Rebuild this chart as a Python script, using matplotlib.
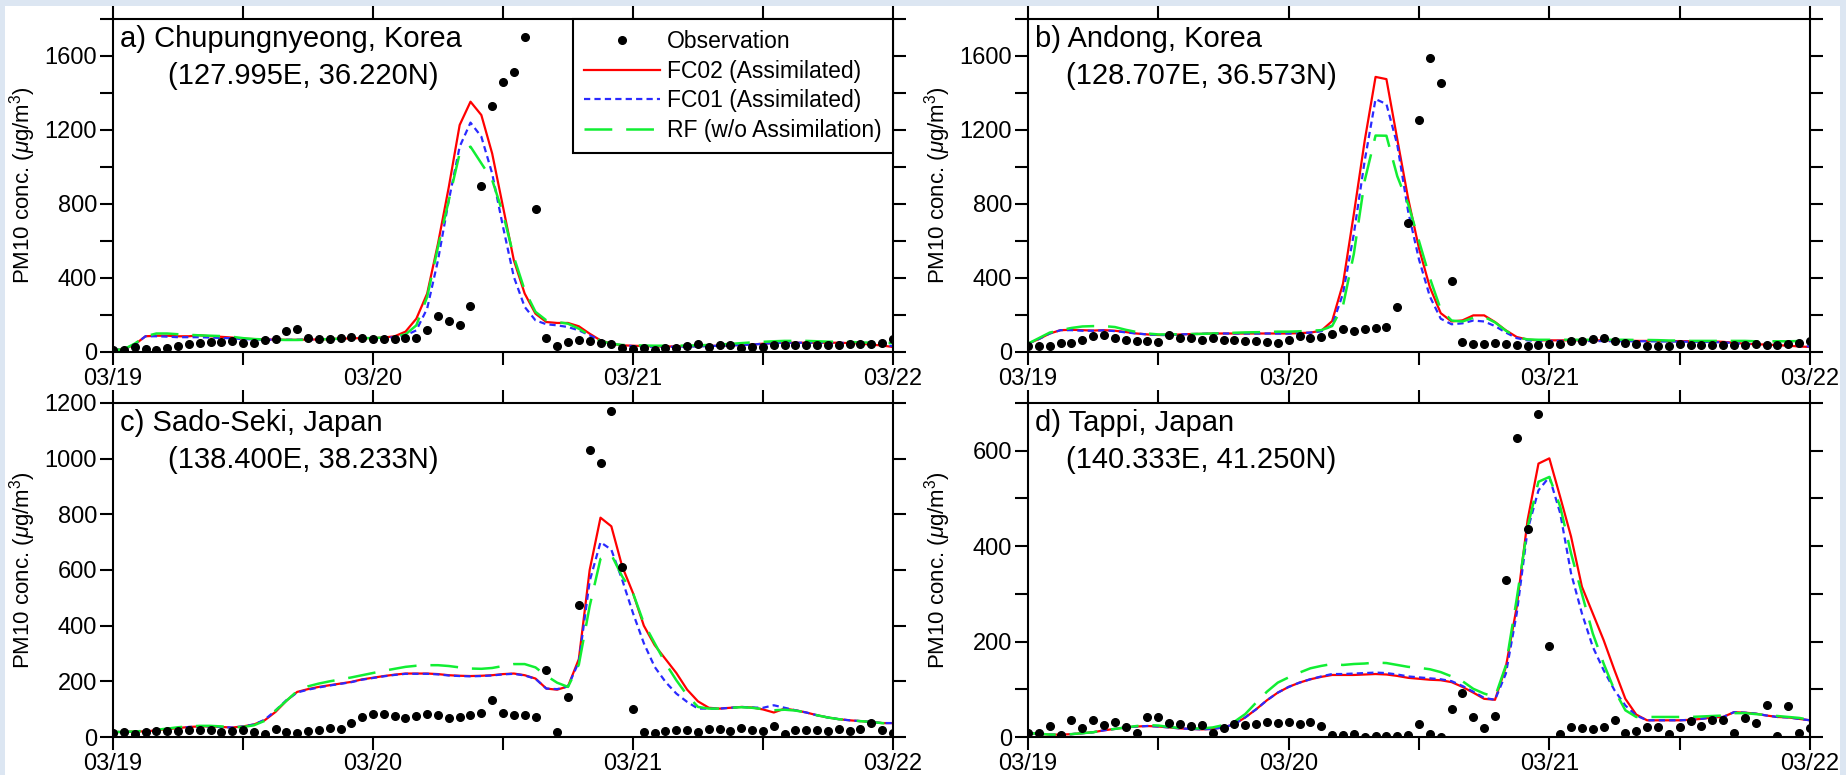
import numpy as np
import matplotlib
matplotlib.use("Agg")
import matplotlib.pyplot as plt
from matplotlib.patches import Rectangle

plt.rcParams["font.family"] = ["Liberation Sans", "DejaVu Sans"]
plt.rcParams["mathtext.fontset"] = "custom"
plt.rcParams["mathtext.rm"] = "Liberation Sans"
plt.rcParams["mathtext.it"] = "Liberation Sans:italic"
plt.rcParams["lines.scale_dashes"] = False

# hours since 03/19 00:00, hourly values
hours = np.arange(73)
day_labels = ["03/19", "03/20", "03/21", "03/22"]

# a) Chupungnyeong
obs_a = [10, 10, 25, 15, 10, 22, 35, 45, 50, 55, 55, 60, 50, 50, 63, 72, 112, 126, 78, 72,
         72, 78, 81, 78, 72, 72, 72, 76, 78, 117, 193, 168, 144, 247, 899, 1330, 1457, 1516, 1702, 773,
         76, 32, 52, 67, 60, 49, 45, 23, 18, 23, 9, 23, 23, 31, 45, 27, 40, 36, 23, 27,
         27, 36, 40, 40, 36, 36, 36, 36, 45, 45, 45, 49, 68]
fc02_a = [10, 15, 40, 85, 88, 88, 85, 85, 90, 85, 82, 78, 72, 70, 68, 67, 66, 66, 67, 68,
          70, 72, 74, 75, 75, 78, 85, 110, 180, 316, 586, 893, 1227, 1353, 1281, 1073, 785, 496, 316, 207,
          162, 157, 157, 139, 99, 63, 45, 36, 34, 32, 30, 30, 30, 32, 32, 33, 34, 36, 38, 40,
          45, 48, 50, 50, 50, 50, 50, 50, 48, 45, 40, 35, 27]
fc01_a = [10, 15, 40, 85, 85, 83, 80, 80, 80, 78, 76, 74, 70, 68, 67, 66, 66, 66, 67, 68,
          70, 72, 73, 74, 74, 76, 80, 90, 117, 235, 496, 821, 1110, 1240, 1164, 965, 677, 406, 244, 171,
          150, 144, 135, 117, 90, 63, 45, 36, 32, 30, 28, 28, 28, 30, 30, 32, 34, 36, 38, 40,
          45, 48, 50, 50, 50, 50, 50, 50, 48, 45, 42, 38, 32]
rf_a = [10, 15, 45, 85, 100, 100, 96, 93, 90, 88, 86, 82, 75, 70, 68, 66, 65, 65, 66, 68,
        70, 72, 74, 75, 75, 78, 85, 95, 144, 298, 568, 821, 1074, 1110, 1020, 930, 749, 514, 334, 217,
        171, 162, 153, 126, 90, 60, 45, 38, 36, 35, 34, 34, 34, 35, 36, 38, 40, 44, 48, 52,
        55, 58, 60, 60, 60, 58, 56, 55, 54, 52, 50, 50, 48]

# b) Andong
obs_b = [31, 31, 31, 49, 49, 63, 85, 94, 76, 67, 59, 59, 54, 90, 76, 76, 67, 76, 67, 63,
         59, 59, 54, 49, 63, 86, 76, 81, 99, 122, 113, 126, 130, 135, 243, 697, 1256, 1589, 1456, 382,
         54, 41, 45, 49, 45, 36, 32, 36, 45, 45, 59, 59, 68, 76, 58, 50, 41, 31, 31, 31,
         45, 40, 36, 36, 36, 40, 40, 41, 36, 36, 45, 50, 59]
fc02_b = [45, 70, 100, 118, 120, 118, 116, 118, 115, 108, 100, 95, 92, 92, 95, 97, 98, 100, 100, 100,
          100, 100, 100, 100, 100, 102, 105, 115, 167, 369, 746, 1142, 1487, 1475, 1150, 830, 560, 350, 210, 165,
          171, 198, 198, 162, 117, 81, 67, 63, 63, 63, 63, 63, 63, 63, 62, 62, 60, 60, 60, 59,
          59, 58, 58, 57, 55, 50, 45, 42, 40, 37, 34, 30, 27]
fc01_b = [45, 70, 100, 118, 118, 115, 115, 117, 113, 106, 100, 95, 92, 92, 95, 97, 98, 100, 100, 100,
          100, 100, 100, 100, 100, 102, 105, 112, 144, 315, 638, 1034, 1367, 1340, 1120, 760, 500, 300, 180, 150,
          155, 170, 165, 140, 105, 75, 63, 60, 60, 60, 60, 60, 59, 59, 58, 58, 58, 58, 57, 57,
          56, 55, 55, 54, 52, 48, 44, 41, 39, 36, 34, 32, 30]
rf_b = [45, 75, 105, 118, 130, 138, 140, 140, 135, 120, 108, 100, 95, 95, 96, 97, 98, 100, 102, 104,
        106, 107, 108, 110, 110, 112, 115, 118, 140, 250, 530, 926, 1170, 1169, 950, 800, 600, 400, 230, 170,
        165, 185, 190, 160, 115, 80, 68, 66, 66, 66, 66, 66, 66, 66, 66, 66, 65, 65, 64, 62,
        62, 60, 60, 60, 60, 60, 60, 58, 58, 58, 58, 59, 60]

# c) Sado-Seki
obs_c = [14, 18, 12, 18, 22, 22, 22, 24, 26, 24, 18, 22, 24, 18, 10, 30, 18, 14, 22, 24,
         34, 30, 50, 72, 84, 82, 75, 70, 75, 84, 78, 70, 72, 78, 87, 132, 87, 78, 78, 72,
         240, 18, 144, 473, 1032, 984, 1172, 609, 100, 18, 14, 20, 24, 24, 18, 28, 28, 20, 32, 24,
         22, 38, 12, 24, 24, 24, 20, 28, 20, 28, 52, 24, 14]
fc02_c = [18, 18, 20, 20, 24, 28, 32, 36, 38, 38, 36, 34, 38, 45, 60, 90, 130, 162, 172, 180,
          186, 192, 198, 207, 213, 219, 224, 228, 228, 228, 226, 222, 220, 219, 220, 222, 226, 228, 222, 210,
          174, 170, 182, 280, 600, 788, 757, 613, 517, 400, 330, 280, 230, 170, 128, 105, 102, 105, 108, 106,
          99, 88, 102, 96, 88, 78, 70, 64, 60, 57, 54, 50, 50]
fc01_c = [18, 18, 20, 20, 24, 28, 32, 36, 38, 38, 36, 34, 38, 45, 62, 95, 132, 160, 170, 178,
          185, 191, 197, 206, 212, 218, 223, 227, 227, 227, 225, 221, 219, 218, 219, 221, 225, 227, 221, 209,
          174, 172, 182, 270, 560, 700, 673, 565, 445, 337, 252, 198, 156, 126, 102, 102, 102, 105, 108, 106,
          105, 114, 105, 96, 88, 78, 70, 64, 60, 57, 54, 50, 50]
rf_c = [18, 18, 20, 22, 26, 30, 35, 38, 40, 40, 38, 35, 36, 42, 58, 95, 130, 165, 182, 192,
        200, 207, 214, 222, 230, 238, 245, 252, 256, 258, 258, 255, 250, 246, 245, 248, 255, 262, 262, 250,
        220, 195, 180, 260, 470, 640, 655, 577, 517, 409, 337, 265, 204, 150, 108, 102, 102, 105, 107, 105,
        100, 96, 98, 95, 88, 78, 70, 64, 60, 57, 54, 50, 48]

# d) Tappi
obs_d = [9, 9, 23, 4, 35, 18, 35, 25, 32, 20, 9, 42, 42, 29, 27, 23, 25, 9, 18, 27,
         25, 28, 32, 29, 32, 27, 32, 23, 4, 4, 7, 0, 2, 2, 2, 4, 27, 6, 0, 59,
         92, 42, 19, 43, 330, 627, 436, 676, 191, 6, 22, 19, 16, 21, 35, 8, 13, 20, 20, 6,
         20, 34, 24, 36, 36, 8, 40, 29, 68, 3, 64, 8, 19]
fc02_d = [8, 7, 5, 5, 6, 8, 10, 14, 17, 20, 22, 23, 22, 20, 18, 17, 16, 17, 20, 27,
          41, 58, 77, 93, 105, 114, 121, 126, 130, 130, 130, 131, 132, 131, 128, 124, 122, 120, 119, 115,
          105, 93, 80, 78, 147, 273, 455, 573, 584, 503, 420, 315, 259, 203, 140, 80, 47, 35, 35, 35,
          35, 36, 38, 41, 42, 52, 51, 49, 45, 42, 41, 38, 35]
fc01_d = [8, 7, 5, 5, 6, 8, 10, 14, 17, 20, 22, 23, 22, 20, 18, 17, 16, 17, 20, 27,
          41, 58, 77, 93, 105, 114, 121, 127, 132, 132, 133, 134, 135, 134, 131, 127, 125, 123, 121, 117,
          107, 95, 82, 78, 133, 259, 434, 517, 545, 469, 343, 259, 189, 140, 98, 66, 45, 35, 35, 35,
          35, 36, 38, 41, 42, 52, 51, 49, 45, 42, 41, 38, 35]
rf_d = [8, 7, 5, 5, 6, 8, 10, 14, 17, 20, 23, 25, 24, 21, 19, 18, 18, 20, 25, 32,
        48, 72, 95, 114, 125, 135, 144, 149, 153, 151, 153, 154, 156, 155, 151, 147, 145, 142, 136, 127,
        117, 101, 91, 84, 150, 290, 440, 535, 545, 483, 385, 300, 217, 154, 98, 56, 42, 42, 42, 42,
        42, 42, 43, 44, 45, 50, 50, 48, 46, 44, 42, 40, 36]

panels = [
    ("a) Chupungnyeong, Korea", "(127.995E, 36.220N)", obs_a, fc02_a, fc01_a, rf_a,
     1800, range(0, 1601, 400), range(200, 1801, 400)),
    ("b) Andong, Korea", "(128.707E, 36.573N)", obs_b, fc02_b, fc01_b, rf_b,
     1800, range(0, 1601, 400), range(200, 1801, 400)),
    ("c) Sado-Seki, Japan", "(138.400E, 38.233N)", obs_c, fc02_c, fc01_c, rf_c,
     1200, range(0, 1201, 200), []),
    ("d) Tappi, Japan", "(140.333E, 41.250N)", obs_d, fc02_d, fc01_d, rf_d,
     700, range(0, 601, 200), range(100, 701, 200)),
]

W, H = 1846, 775
fig = plt.figure(figsize=(W / 100, H / 100), dpi=100)
fig.patch.set_facecolor("#dce6f2")
fig.add_artist(Rectangle((5 / W, 0), 1835 / W, 769 / H, transform=fig.transFigure,
                         facecolor="white", edgecolor="none", zorder=-5))

# axes boxes in pixels: left, top, right, bottom
boxes = [(113, 19, 893, 352), (1028, 19, 1810, 352),
         (113, 403, 893, 737), (1028, 403, 1810, 737)]

for (line1, line2, obs, fc02, fc01, rf, ymax, yt, ym), (l, t, r, b) in zip(panels, boxes):
    ax = fig.add_axes([l / W, 1 - b / H, (r - l) / W, (b - t) / H])
    ax.plot(hours, fc02, color="#ff0000", lw=1.6, label="FC02 (Assimilated)")
    ax.plot(hours, fc01, color="#2a2aff", lw=1.6, dashes=(4.5, 3), label="FC01 (Assimilated)")
    ax.plot(hours, rf, color="#11ee33", lw=1.8, dashes=(20, 10), label="RF (w/o Assimilation)")
    ax.plot(hours, obs, "o", color="black", ms=5.5, label="Observation", zorder=5)

    ax.set_xlim(0, 72)
    ax.set_ylim(0, ymax)
    ax.set_xticks([0, 24, 48, 72])
    ax.set_xticklabels(day_labels)
    ax.set_xticks([12, 36, 60], minor=True)
    ax.set_yticks(list(yt))
    ax.set_yticks(list(ym), minor=True)
    ax.tick_params(which="both", direction="out", length=9.5, width=1.5,
                   top=True, right=True, labelsize=17, pad=2)
    for s in ax.spines.values():
        s.set_linewidth(1.5)

    ax.set_ylabel("PM10 conc. ($\\mu$g/m$^3$)", fontsize=16)
    ax.yaxis.set_label_coords(-75 / (r - l), 0.5)

    ax.text(7 / (r - l), 1 - 20 / (b - t), line1, transform=ax.transAxes,
            fontsize=21, va="center", ha="left")
    dx = 55 if l < 500 else 38
    ax.text(dx / (r - l), 1 - 57 / (b - t), line2, transform=ax.transAxes,
            fontsize=21, va="center", ha="left")

    if line1.startswith("a)"):
        h, lab = ax.get_legend_handles_labels()
        order = [3, 0, 1, 2]
        leg = ax.legend([h[i] for i in order], [lab[i] for i in order],
                        loc="upper right", borderaxespad=0, fontsize=16.5,
                        handlelength=3.3, handletextpad=0.3, labelspacing=0.28,
                        borderpad=0.5, fancybox=False, framealpha=1)
        leg.get_frame().set_edgecolor("black")
        leg.get_frame().set_linewidth(1.5)

fig.savefig("out.png", dpi=100, facecolor=fig.get_facecolor())
